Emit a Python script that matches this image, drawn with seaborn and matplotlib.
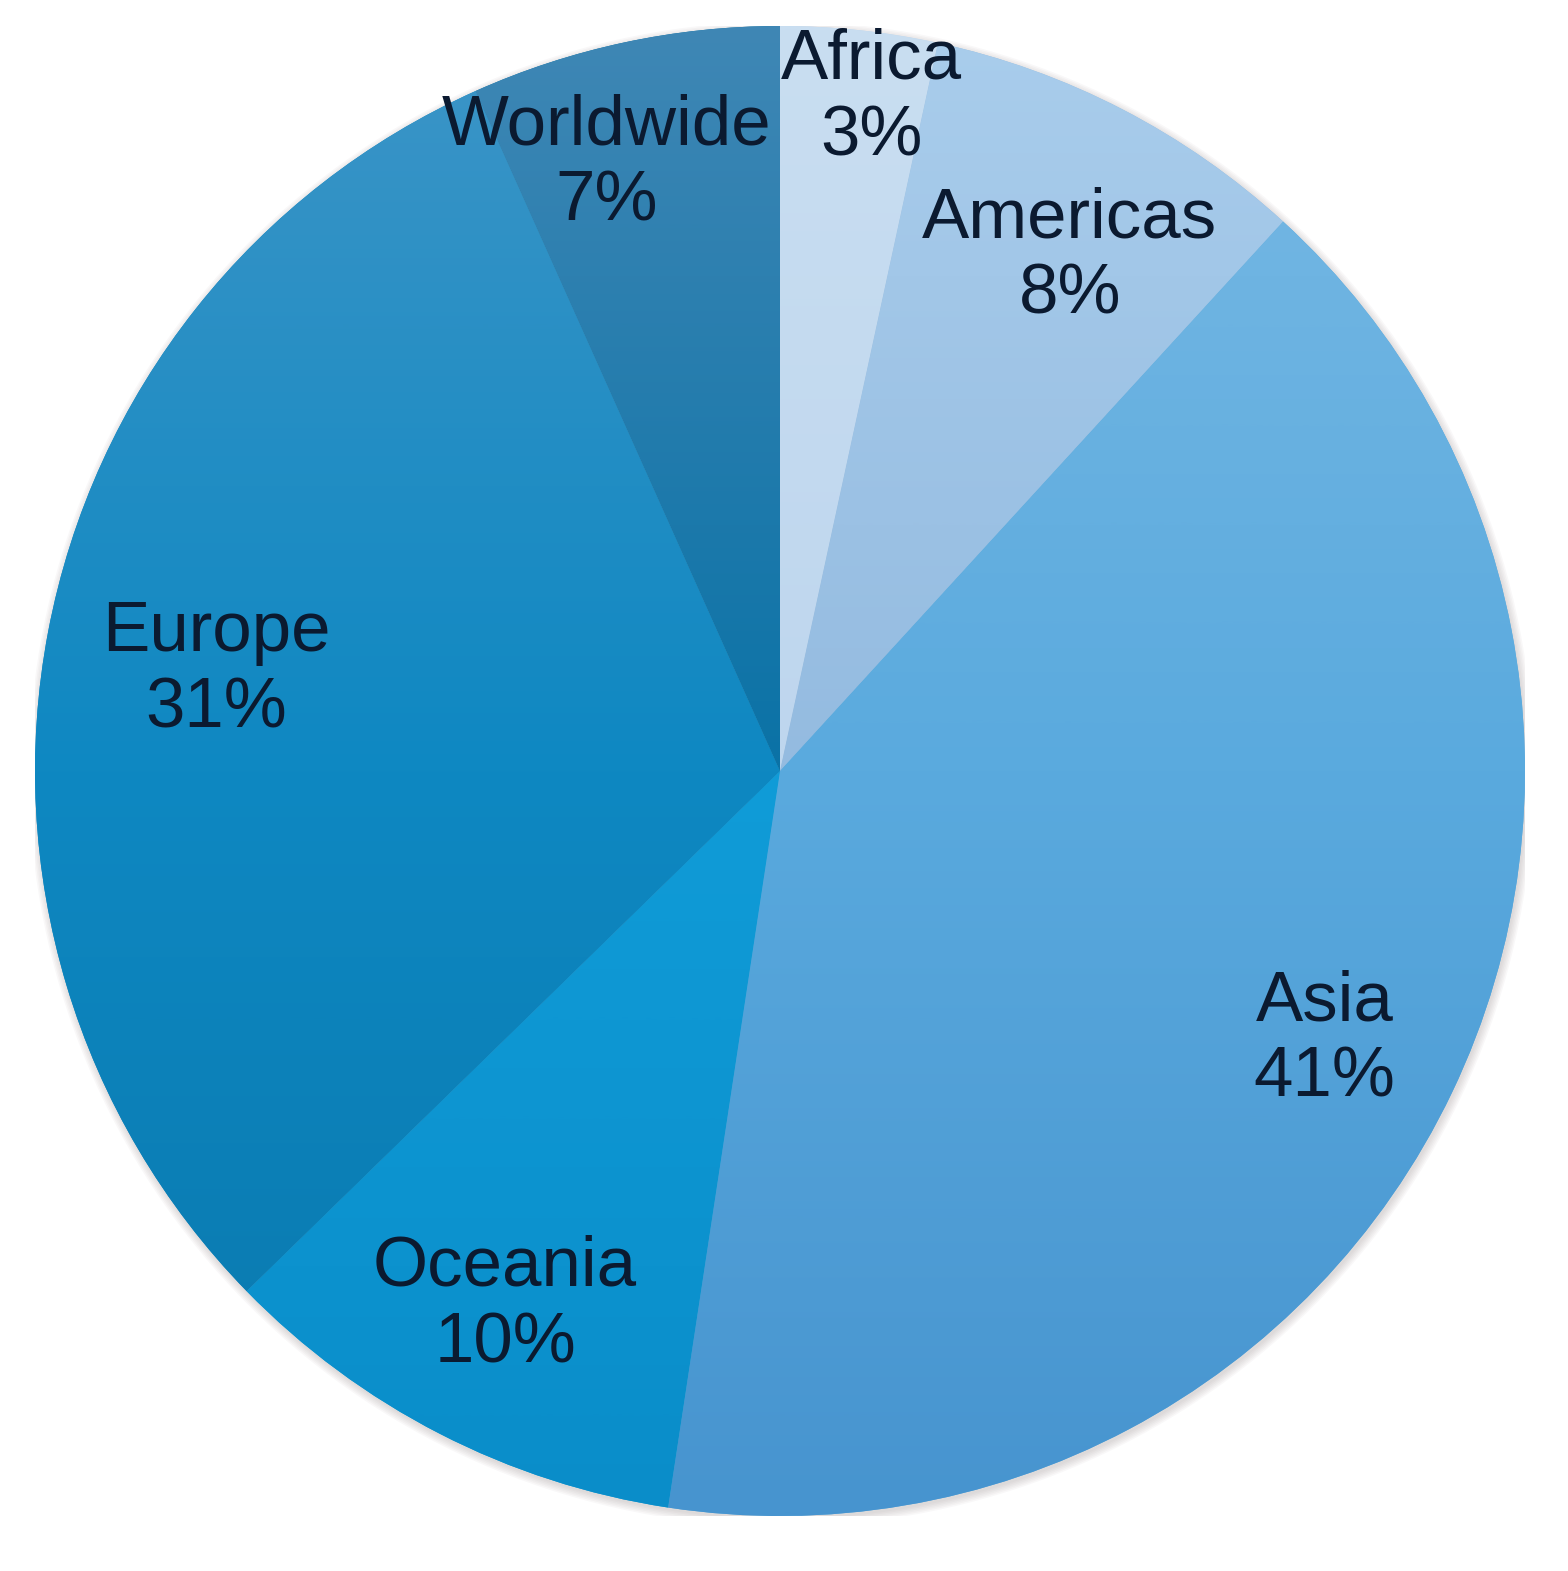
import numpy as np
import matplotlib
matplotlib.use("Agg")
import matplotlib.pyplot as plt
from matplotlib.colors import LinearSegmentedColormap
from matplotlib.patches import Circle
import seaborn as sns

# ---- data (shares; labels are rounded) ----
regions = ["Africa", "Americas", "Asia", "Oceania", "Europe", "Worldwide"]
shares = [3.4, 8.4, 40.6, 10.3, 30.6, 6.7]
pct_labels = [f"{round(v)}%" for v in shares]

# ---- style: vertical gradient stops (top of pie, centre, bottom) ----
grad_colors = [
    ["#b8d0e9", "#bed6ee", "#c9def1"],   # Africa
    ["#86afd9", "#94bbe0", "#a9cdec"],   # Americas
    ["#4794cf", "#5aaade", "#78b9e4"],   # Asia
    ["#0a8dc9", "#109cd8", "#28a8e0"],   # Oceania
    ["#0a78ad", "#0e88c2", "#3d95c7"],   # Europe
    ["#06699c", "#0a72a6", "#3f87b5"],   # Worldwide
]
# label centres (in pie-radius units, relative to pie centre)
label_xy = [(0.123, 0.902), (0.389, 0.689), (0.731, -0.362),
            (-0.369, -0.718), (-0.757, 0.134), (-0.233, 0.814)]

sns.set_theme(style="white")
plt.rcParams["font.family"] = ["Liberation Sans", "DejaVu Sans"]

W, H = 1568, 1571
fig = plt.figure(figsize=(W / 100, H / 100), dpi=100)
cx, cy, R = 780, 771, 745
ax = fig.add_axes([(cx - R) / W, (H - cy - R) / H, 2 * R / W, 2 * R / H])

# soft shadow around the pie
for k in range(6):
    ax.add_patch(Circle((0.002, -0.004), 1.0 + 0.002 * k, facecolor="#8a7f80",
                        edgecolor="none", alpha=0.05, zorder=0))

wedges, _ = ax.pie(shares, startangle=90, counterclock=False, radius=1,
                   colors=[c[1] for c in grad_colors],
                   wedgeprops=dict(edgecolor="none", linewidth=0))

grad = np.linspace(0, 1, 512).reshape(-1, 1)
for w, stops in zip(wedges, grad_colors):
    cmap = LinearSegmentedColormap.from_list("g", stops)
    im = ax.imshow(grad, extent=[-1, 1, -1, 1], origin="lower", cmap=cmap,
                   aspect="auto", interpolation="bilinear", zorder=2)
    im.set_clip_path(w)

for name, pct, (x, y) in zip(regions, pct_labels, label_xy):
    ax.text(x, y, f"{name}\n{pct}", ha="center", va="center", fontsize=51,
            color="#0b1a30", linespacing=1.2, zorder=5)

ax.set_xlim(-1, 1)
ax.set_ylim(-1, 1)
ax.set_axis_off()
fig.savefig("out.png", dpi=100, facecolor="white")
